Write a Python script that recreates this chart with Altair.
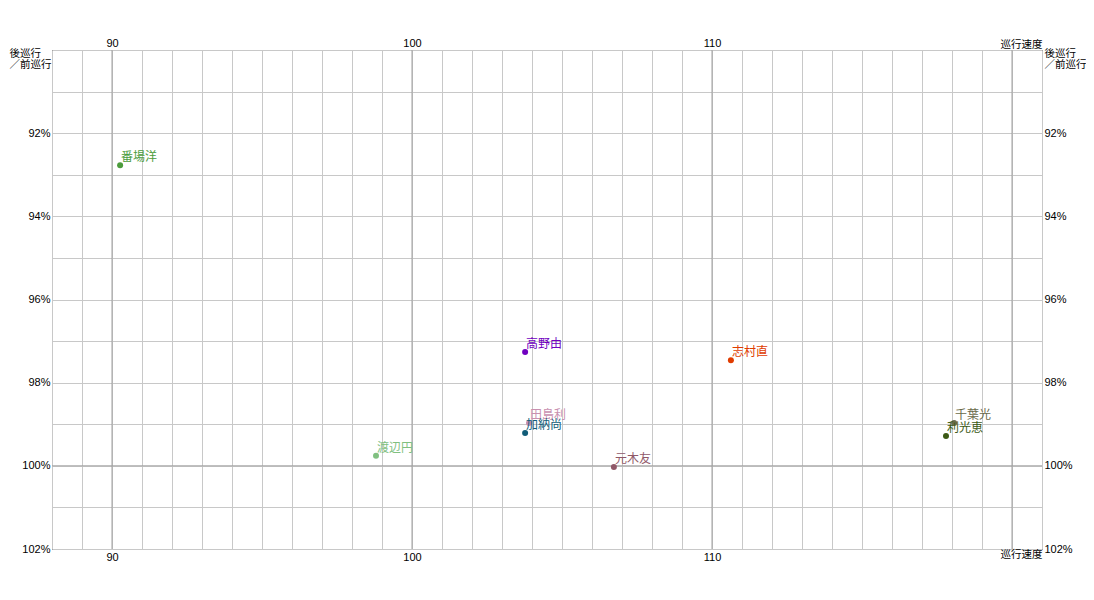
import altair as alt
import pandas as pd

names = ["番場洋", "高野由", "志村直", "田島利", "加納尚", "渡辺円", "元木友", "千葉光", "利光恵"]
speed = [90.27, 103.77, 110.63, 103.9, 103.77, 98.8, 106.73, 118.07, 117.8]
ratio = [92.77, 97.26, 97.46, 98.97, 99.21, 99.76, 100.03, 98.97, 99.28]
colors = ["#4c9c3c", "#7000c0", "#e03c00", "#c890b0", "#105c78", "#80c080", "#905868", "#6a6a4a", "#3c5a14"]

x_grid = list(range(88, 122))
y_grid = list(range(90, 103))
x_major = [90, 100, 110, 120]
y_major = [100]

df = pd.DataFrame({"name": names, "speed": speed, "ratio": ratio})
FONT = "Noto Sans CJK JP"
NFONT = "Liberation Sans"

xs = alt.Scale(domain=[88, 121], nice=False, zero=False)
ys = alt.Scale(domain=[90, 102], nice=False, zero=False, reverse=True)
cs = alt.Scale(domain=names, range=colors)

lab_x = "indexof([90,100,110], datum.value) >= 0 ? datum.value : ''"
lab_y = "datum.value % 2 == 0 && datum.value > 90 ? datum.value + '%' : ''"

lab = dict(ticks=False, domain=False, labelFont=NFONT, labelFontSize=11, labelFontWeight="normal",
           labelColor="#000000", labelFlush=False, labelOverlap=False, labelPadding=2,
           titleFont=FONT, titleFontSize=10.5, titleFontWeight="normal", titleColor="#000000")

x_bottom = alt.Axis(orient="bottom", values=x_grid, labelExpr=lab_x,
                    grid=True, gridColor="#c8c8c8", gridWidth=1,
                    title="巡行速度", titleAlign="right", titleBaseline="top", titleX=990, titleY=0, **lab)
y_left = alt.Axis(orient="left", values=y_grid, labelExpr=lab_y,
                  grid=True, gridColor="#c8c8c8", gridWidth=1,
                  title=["後巡行", "／前巡行"], titleAngle=0, titleAlign="left", titleBaseline="top",
                  titleX=-43, titleY=-2, titleLineHeight=11, **lab)
x_top = alt.Axis(orient="top", values=x_grid, labelExpr=lab_x, grid=False,
                 title="巡行速度", titleAlign="right", titleBaseline="bottom", titleX=990, titleY=-1, **lab)
y_right = alt.Axis(orient="right", values=y_grid, labelExpr=lab_y, grid=False,
                   title=["後巡行", "／前巡行"], titleAngle=0, titleAlign="left", titleBaseline="top",
                   titleX=2, titleY=-2, titleLineHeight=11, **lab)

base = alt.Chart(df)

grid_layer = base.mark_circle(opacity=0).encode(
    x=alt.X("speed:Q", scale=xs, axis=x_bottom),
    y=alt.Y("ratio:Q", scale=ys, axis=y_left),
)
axes2 = base.mark_circle(opacity=0).encode(
    x=alt.X("speed:Q", scale=xs, axis=x_top),
    y=alt.Y("ratio:Q", scale=ys, axis=y_right),
)

xmaj = alt.Chart(pd.DataFrame({"v": x_major})).mark_rule(color="#a0a0a0", strokeWidth=1).encode(
    x=alt.X("v:Q", scale=xs, axis=None))
ymaj = alt.Chart(pd.DataFrame({"v": y_major})).mark_rule(color="#a0a0a0", strokeWidth=1).encode(
    y=alt.Y("v:Q", scale=ys, axis=None))

points = base.mark_circle(size=36, opacity=1).encode(
    x=alt.X("speed:Q", scale=xs, axis=None),
    y=alt.Y("ratio:Q", scale=ys, axis=None),
    color=alt.Color("name:N", scale=cs, legend=None),
)

labels = base.mark_text(align="left", baseline="bottom", dx=1, dy=-1, font=FONT, fontSize=12).encode(
    x=alt.X("speed:Q", scale=xs, axis=None),
    y=alt.Y("ratio:Q", scale=ys, axis=None),
    text="name:N",
    color=alt.Color("name:N", scale=cs, legend=None),
)

chart = alt.layer(grid_layer, axes2, xmaj, ymaj, points, labels).resolve_axis(
    x="independent", y="independent"
).properties(
    width=990, height=499,
    autosize=alt.AutoSizeParams(type="none"),
    padding={"left": 44, "top": 42, "right": 44, "bottom": 30},
).configure_view(stroke="#000000", strokeWidth=1)

chart.save("out.html", embed_options={"renderer": "svg", "actions": False})
